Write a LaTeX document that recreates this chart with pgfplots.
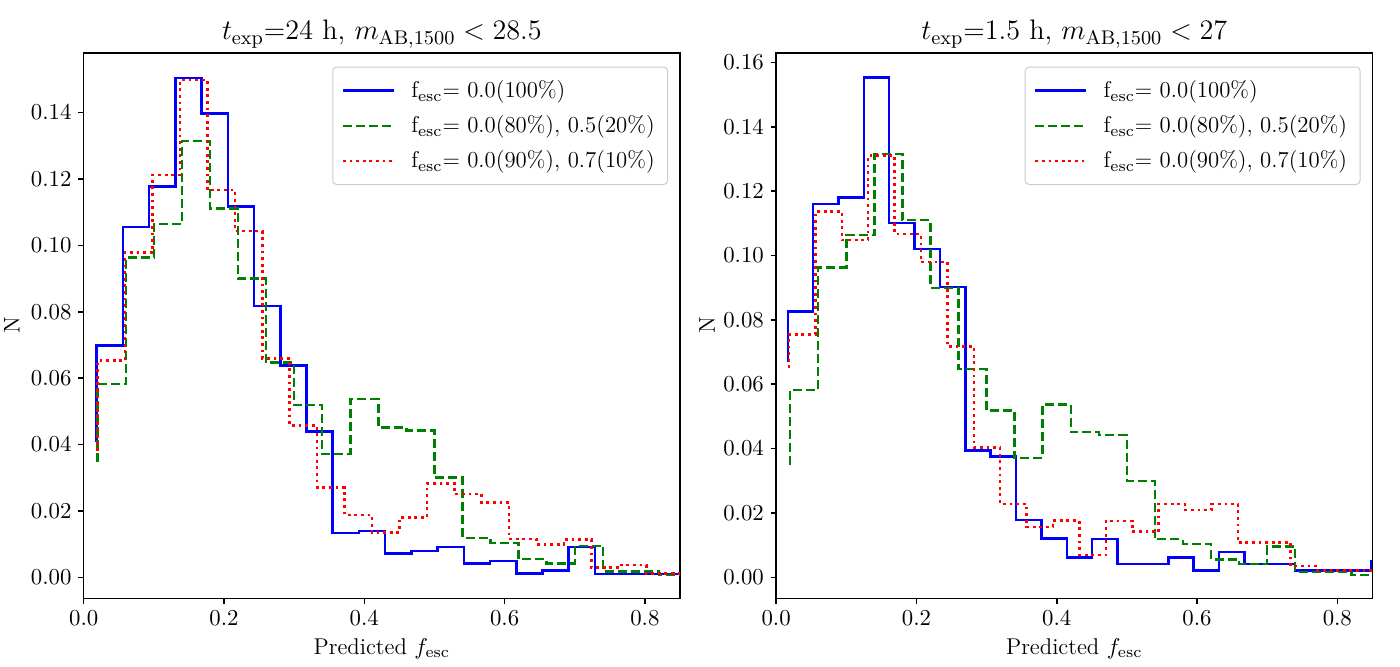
\RequirePackage{fix-cm}
\documentclass[border=0pt]{standalone}
\usepackage{pgfplots}
\pgfplotsset{compat=1.18}
\definecolor{mplgreen}{RGB}{0,128,0}
\newcommand{\basefont}{\fontsize{11.4}{13.5}\selectfont}
\pgfplotsset{
  myaxis/.style={
    scale only axis, width=298.15pt, height=272.7pt,
    xmin=0, xmax=0.85,
    axis line style={line width=0.8pt},
    every tick/.style={line width=0.8pt, black},
    major tick length=2.6pt,
    tick align=outside,
    xtick pos=left, ytick pos=left,
    xtick={0,0.2,0.4,0.6,0.8},
    scaled ticks=false,
    xticklabel={\pgfmathprintnumber[fixed,fixed zerofill,precision=1]{\tick}},
    yticklabel={\pgfmathprintnumber[fixed,fixed zerofill,precision=2]{\tick}},
    tick label style={font=\basefont},
    xticklabel style={yshift=0pt},
    label style={font=\basefont},
    title style={font=\fontsize{14.1}{16}\selectfont, at={(0.5,1)}, anchor=base, yshift=0.5pt, inner sep=0pt},
    xlabel style={at={(0.5,0)}, anchor=base, yshift=-27.9pt, inner sep=0pt},
    legend style={at={(1,1)}, anchor=north east, xshift=-5.9pt, yshift=-6.8pt,
      draw=black!20, line width=0.5pt, rounded corners=2pt, fill=white,
      font=\basefont, inner xsep=4.5pt, inner ysep=4.8pt, row sep=3.5pt, column sep=6pt,
      cells={anchor=west}},
    legend image code/.code={\draw[##1] (0pt,0pt) -- (25.5pt,0pt);},
    const plot mark right,
    every axis plot/.append style={line width=1.25pt, mark=none},
  },
  sblue/.style={blue, solid},
  sgreen/.style={mplgreen, dash pattern=on 4.5pt off 2pt},
  sred/.style={red, dash pattern=on 1.4pt off 1.9pt},
}
\begin{document}
\begin{tikzpicture}
\useasboundingbox (0,0) rectangle (700pt,333pt);
\begin{axis}[myaxis, at={(41.85pt,33.85pt)}, anchor=south west,
  ymin=-0.00633, ymax=0.158,
  ytick={0,0.02,0.04,0.06,0.08,0.10,0.12,0.14},
  ylabel={N}, ylabel style={at={(axis description cs:-0.1207,0.5)}, anchor=center},
  xlabel={Predicted $f_{\mathrm{esc}}$},
  title={$t_{\mathrm{exp}}$=24 h, $m_{\mathrm{AB,1500}}<28.5$}]
\addplot[sblue] coordinates {(0.0185,0.0409) (0.0559,0.0698) (0.0933,0.1056) (0.1306,0.1177) (0.1680,0.1505) (0.2054,0.1398) (0.2428,0.1117) (0.2802,0.0818) (0.3175,0.0638) (0.3549,0.0439) (0.3923,0.0133) (0.4297,0.0140) (0.4671,0.0071) (0.5044,0.0079) (0.5418,0.0092) (0.5792,0.0042) (0.6166,0.0049) (0.6540,0.0012) (0.6913,0.0020) (0.7287,0.0092) (0.7661,0.0010) (0.8035,0.0010) (0.8409,0.0010) (0.8782,0.0010)};
\addlegendentry{f$_{\mathrm{esc}}$= 0.0(100\%)}
\addplot[sgreen] coordinates {(0.02,0.0348) (0.06,0.0582) (0.10,0.0963) (0.14,0.1064) (0.18,0.1315) (0.22,0.1111) (0.26,0.0900) (0.30,0.0647) (0.34,0.0519) (0.38,0.0371) (0.42,0.0537) (0.46,0.0451) (0.50,0.0442) (0.54,0.0300) (0.58,0.0119) (0.62,0.0104) (0.66,0.0055) (0.70,0.0042) (0.74,0.0095) (0.78,0.0017) (0.82,0.0017) (0.86,0.0007) (0.90,0.0007)};
\addlegendentry{f$_{\mathrm{esc}}$= 0.0(80\%), 0.5(20\%)}
\addplot[sred] coordinates {(0.0200,0.0380) (0.0591,0.0653) (0.0982,0.0979) (0.1373,0.1212) (0.1764,0.1498) (0.2155,0.1167) (0.2546,0.1043) (0.2937,0.0660) (0.3328,0.0457) (0.3719,0.0270) (0.4110,0.0188) (0.4501,0.0135) (0.4892,0.0180) (0.5283,0.0283) (0.5674,0.0251) (0.6065,0.0225) (0.6456,0.0115) (0.6847,0.0099) (0.7238,0.0114) (0.7629,0.0029) (0.8020,0.0037) (0.8411,0.0012) (0.8802,0.0012)};
\addlegendentry{f$_{\mathrm{esc}}$= 0.0(90\%), 0.7(10\%)}
\end{axis}
\begin{axis}[myaxis, at={(388.05pt,33.85pt)}, anchor=south west,
  ymin=-0.00653, ymax=0.163,
  ytick={0,0.02,0.04,0.06,0.08,0.10,0.12,0.14,0.16},
  ylabel={N}, ylabel style={at={(axis description cs:-0.1157,0.5)}, anchor=center},
  xlabel={Predicted $f_{\mathrm{esc}}$},
  title={$t_{\mathrm{exp}}$=1.5 h, $m_{\mathrm{AB,1500}}<27$}]
\addplot[sblue] coordinates {(0.0166,0.0668) (0.0527,0.0826) (0.0889,0.1160) (0.1250,0.1180) (0.1612,0.1553) (0.1974,0.1102) (0.2335,0.1021) (0.2697,0.0902) (0.3058,0.0394) (0.3420,0.0375) (0.3782,0.0178) (0.4143,0.0120) (0.4505,0.0061) (0.4866,0.0119) (0.5228,0.0042) (0.5590,0.0042) (0.5951,0.0061) (0.6313,0.0021) (0.6674,0.0079) (0.7036,0.0042) (0.7398,0.0042) (0.7759,0.0021) (0.8121,0.0021) (0.8482,0.0021) (0.8844,0.0050)};
\addlegendentry{f$_{\mathrm{esc}}$= 0.0(100\%)}
\addplot[sgreen] coordinates {(0.02,0.0348) (0.06,0.0582) (0.10,0.0963) (0.14,0.1064) (0.18,0.1315) (0.22,0.1111) (0.26,0.0900) (0.30,0.0647) (0.34,0.0519) (0.38,0.0371) (0.42,0.0537) (0.46,0.0451) (0.50,0.0442) (0.54,0.0300) (0.58,0.0119) (0.62,0.0104) (0.66,0.0055) (0.70,0.0042) (0.74,0.0095) (0.78,0.0017) (0.82,0.0017) (0.86,0.0007) (0.90,0.0007)};
\addlegendentry{f$_{\mathrm{esc}}$= 0.0(80\%), 0.5(20\%)}
\addplot[sred] coordinates {(0.0184,0.0650) (0.0560,0.0755) (0.0937,0.1137) (0.1313,0.1049) (0.1690,0.1311) (0.2066,0.1067) (0.2442,0.0980) (0.2819,0.0717) (0.3195,0.0403) (0.3572,0.0228) (0.3948,0.0157) (0.4324,0.0176) (0.4701,0.0069) (0.5077,0.0175) (0.5454,0.0142) (0.5830,0.0228) (0.6206,0.0209) (0.6583,0.0228) (0.6959,0.0108) (0.7336,0.0108) (0.7712,0.0035) (0.8088,0.0021) (0.8465,0.0021) (0.8841,0.0021)};
\addlegendentry{f$_{\mathrm{esc}}$= 0.0(90\%), 0.7(10\%)}
\end{axis}
\end{tikzpicture}
\end{document}
